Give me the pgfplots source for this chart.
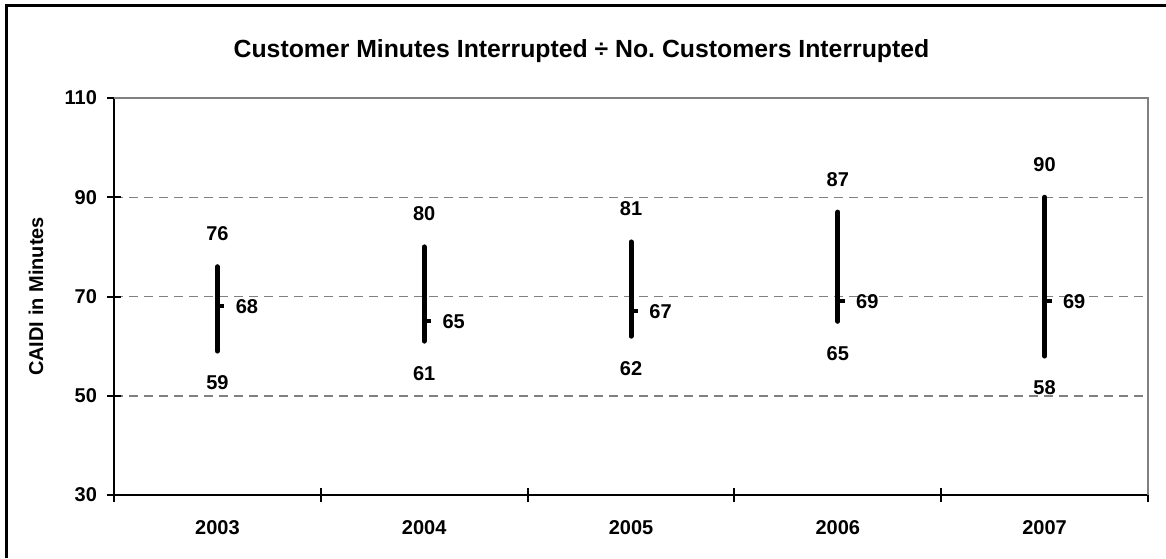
\documentclass[border=0pt]{standalone}
\usepackage{fontspec}
\setmainfont{Liberation Sans}
\usepackage{pgfplots}
\pgfplotsset{compat=1.18}
\usepackage{pgfplotstable}

% CAIDI per year: low, high, close
\pgfplotstableread{
x year lo hi close
0 2003 59 76 68
1 2004 61 80 65
2 2005 62 81 67
3 2006 65 87 69
4 2007 58 90 69
}\caidi

\pgfdeclareplotmark{closetick}{%
  \pgfpathmoveto{\pgfqpoint{0pt}{0pt}}%
  \pgfpathlineto{\pgfqpoint{3.5pt}{0pt}}%
  \pgfusepathqstroke}

\definecolor{gridgray}{HTML}{808080}

\begin{document}
\begin{tikzpicture}[font=\bfseries\fontsize{10}{12}\selectfont]
\useasboundingbox (0,0) rectangle (583pt,-279pt);
\draw[line width=1.5pt] (3pt,-279pt) -- (3pt,-2.5pt) -- (583pt,-2.5pt);
\begin{axis}[
    at={(57pt,-247.5pt)}, anchor=south west,
    scale only axis, width=517pt, height=198.5pt,
    xmin=-0.5, xmax=4.5,
    ymin=30, ymax=110,
    ytick={30,50,70,90,110},
    xtick={0,1,2,3,4},
    xticklabels={2003,2004,2005,2006,2007},
    minor xtick={-0.5,0.5,1.5,2.5,3.5,4.5},
    major x tick style={draw=none},
    tick align=center,
    major tick length=7pt, minor tick length=7pt,
    tick style={line width=1pt, black},
    axis lines*=left,
    axis line style={line width=1pt, black},
    ymajorgrids,
    grid style={gridgray, line width=0.75pt, dash pattern=on 4.5pt off 3pt},
    /pgf/number format/assume math mode=true,
    ticklabel style={font=\bfseries\fontsize{10}{12}\selectfont},
    xticklabel style={anchor=center, yshift=-13pt},
    yticklabel style={xshift=-1.5pt},
    title={Customer Minutes Interrupted \textdiv{} No.\ Customers Interrupted},
    title style={at={(0.5,1)}, anchor=center, yshift=17.5pt, xshift=-24.75pt,
        font=\bfseries\fontsize{12.4}{15}\selectfont},
    ylabel={CAIDI in Minutes},
    ylabel style={at={(axis description cs:-0.0754,0.5)}, anchor=center,
        font=\bfseries\fontsize{10}{12}\selectfont},
    clip=false,
]
% grey plot-area border on top and right
\draw[gridgray, line width=1pt] (rel axis cs:0,1) -- (rel axis cs:1,1) -- (rel axis cs:1,0);

% high-low bars with close tick
\addplot[only marks, mark=closetick, mark options={line width=2pt, black},
    error bars/.cd, y dir=both, y explicit, error mark=none,
    error bar style={line width=2.5pt, line cap=round, black}]
    table[x=x, y=close,
          y error plus expr=\thisrow{hi}-\thisrow{close},
          y error minus expr=\thisrow{close}-\thisrow{lo}] {\caidi};

% close labels
\addplot[draw=none, mark=none, nodes near coords,
    every node near coord/.append style={anchor=west, inner sep=0pt, xshift=9pt,
        font=\bfseries\fontsize{10}{12}\selectfont}]
    table[x=x, y=close] {\caidi};
% high labels
\addplot[draw=none, mark=none, nodes near coords,
    every node near coord/.append style={anchor=center, yshift=16.5pt,
        font=\bfseries\fontsize{10}{12}\selectfont}]
    table[x=x, y=hi] {\caidi};
% low labels
\addplot[draw=none, mark=none, nodes near coords,
    every node near coord/.append style={anchor=center, yshift=-16pt,
        font=\bfseries\fontsize{10}{12}\selectfont}]
    table[x=x, y=lo] {\caidi};
\end{axis}
\end{tikzpicture}
\end{document}
